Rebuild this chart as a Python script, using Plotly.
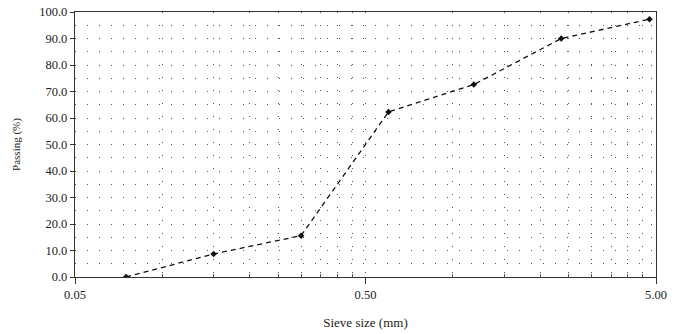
import plotly.graph_objects as go

sieve_mm = [0.075, 0.15, 0.3, 0.6, 1.18, 2.36, 4.75]
passing = [0.0, 8.7, 15.6, 62.3, 72.6, 90.0, 97.3]

x_major = [0.05, 0.5, 5.0]
x_major_text = ["0.05", "0.50", "5.00"]
x_minor = [0.1, 0.15, 0.2, 0.25, 0.3, 0.35, 0.4, 0.45,
           1.0, 1.5, 2.0, 2.5, 3.0, 3.5, 4.0, 4.5]
y_major = [0, 10, 20, 30, 40, 50, 60, 70, 80, 90, 100]

fig = go.Figure()
fig.add_trace(go.Scatter(
    x=sieve_mm, y=passing, mode="lines+markers",
    line=dict(color="#111", width=1.3, dash="5px,4px"),
    marker=dict(symbol="diamond", size=5, color="#111"),
    showlegend=False,
))

font = dict(family="Liberation Serif, DejaVu Serif, serif", color="#222")
fig.update_layout(
    width=680, height=334,
    margin=dict(l=75, r=24, t=12, b=57),
    paper_bgcolor="white", plot_bgcolor="white",
    font=dict(size=12.5, **font),
)
fig.update_xaxes(
    type="log", range=[-1.30103, 0.69897],
    tickmode="array", tickvals=x_major, ticktext=x_major_text,
    ticks="outside", ticklen=6, tickcolor="#333",
    showline=True, linecolor="#333", linewidth=1.3, mirror=True,
    showgrid=True, gridcolor="#555", gridwidth=1, griddash="1px,12px",
    minor=dict(tickmode="array", tickvals=x_minor, ticks="inside", ticklen=3,
               tickcolor="#555", showgrid=True, gridcolor="#555",
               griddash="1px,12px"),
    title=dict(text="Sieve size (mm)", font=dict(size=13, **font), standoff=16),
    tickfont=dict(size=12.5, **font),
    automargin=False,
    zeroline=False,
)
fig.update_yaxes(
    range=[0, 100],
    tickmode="array", tickvals=y_major,
    ticktext=[f"{v:.1f}" for v in y_major],
    ticks="outside", ticklen=4, tickcolor="#333",
    showline=True, linecolor="#333", linewidth=1.3, mirror=True,
    showgrid=True, gridcolor="#555", gridwidth=1, griddash="1px,11px",
    minor=dict(dtick=5, showgrid=True, gridcolor="#555", griddash="1px,11px"),
    title=dict(text="Passing (%)", font=dict(size=11, **font), standoff=16),
    tickfont=dict(size=12.5, **font),
    ticklabeloverflow="allow",
    automargin=False,
    zeroline=False,
)
fig.write_html(
    "out.html",
    config={"displayModeBar": False},
    post_script="document.body.style.margin='0';",
)
